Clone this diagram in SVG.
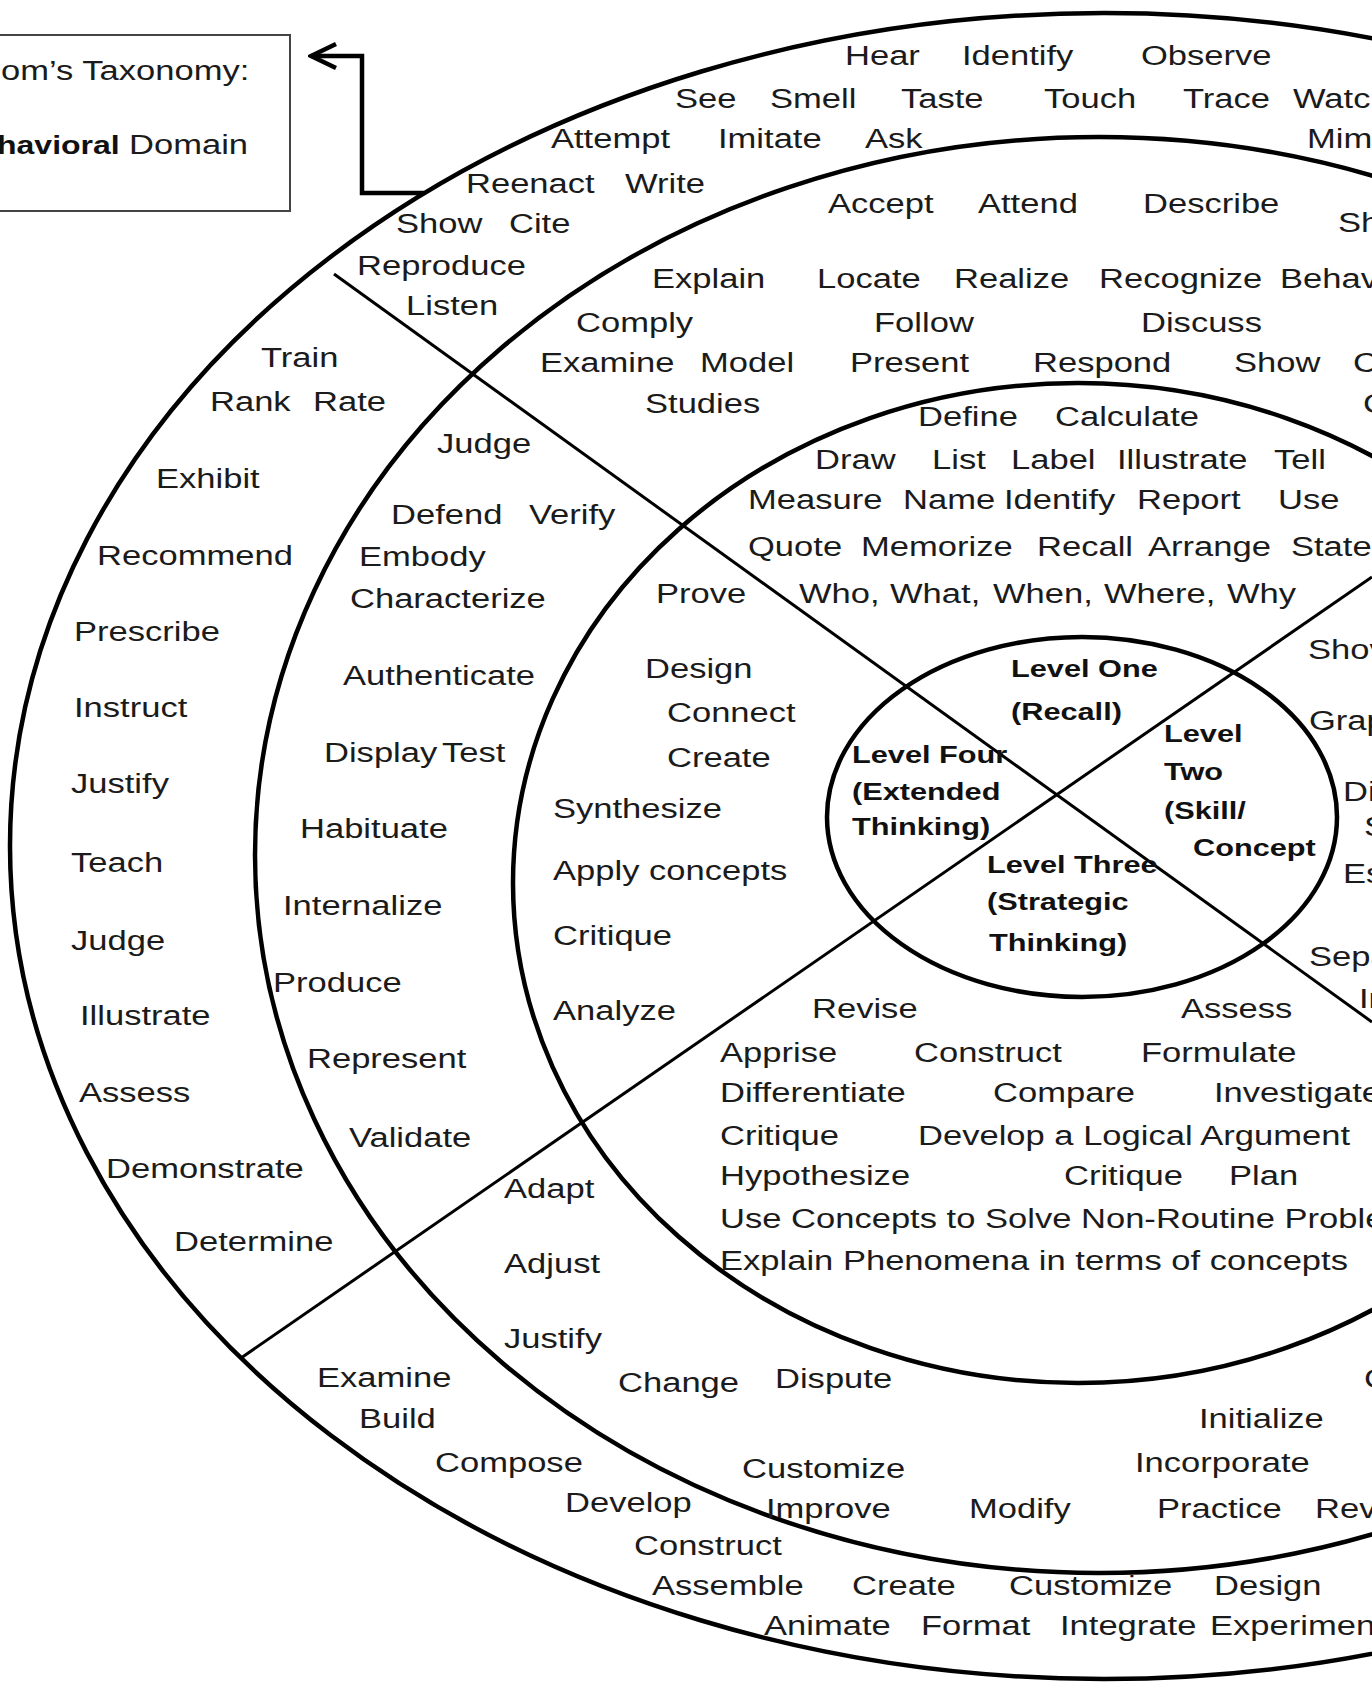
<svg xmlns="http://www.w3.org/2000/svg" width="1372" height="1685" viewBox="0 0 1372 1685">
<style>
.t{font-family:"Liberation Sans",Arial,sans-serif;font-size:27px;fill:#1b1b1b;transform-box:fill-box;transform-origin:0 0;transform:scaleX(1.28)}
.b{font-weight:bold;font-size:24px;fill:#111}
.bb{font-weight:bold;font-size:25px;fill:#111}
.ring{fill:none;stroke:#000;stroke-width:4.5}
.div{fill:none;stroke:#000;stroke-width:3}
.conn{fill:none;stroke:#000;stroke-width:4.5;stroke-linejoin:miter}
</style>
<defs>
<marker id="chev" markerUnits="userSpaceOnUse" viewBox="0 0 30 30" markerWidth="30" markerHeight="30" refX="27" refY="15" orient="auto">
<path d="M2,3 L27,15 L2,27" fill="none" stroke="#000" stroke-width="4.5" stroke-linejoin="miter"/>
</marker>
</defs>
<rect x="0" y="0" width="1372" height="1685" fill="#fff"/>

<g id="rings">
<ellipse class="ring" cx="1104" cy="846" rx="1094" ry="833"/>
<ellipse class="ring" cx="1099" cy="855" rx="844" ry="718"/>
<ellipse class="ring" cx="1078" cy="883" rx="565" ry="500"/>
<ellipse class="ring" cx="1082" cy="817" rx="255" ry="180" stroke-width="4"/>
</g>

<g id="dividers">
<line class="div" x1="334" y1="274" x2="1372" y2="1022"/>
<line class="div" x1="241" y1="1358" x2="1372" y2="577"/>
</g>

<g id="connectors">
<polyline class="conn" points="424,193 362,193 362,56 311,56" marker-end="url(#chev)"/>
</g>

<g id="title-box">
<rect x="-5" y="35" width="295" height="176" fill="#fff" stroke="#444" stroke-width="2"/>
<text class="t" x="1" y="80">om’s Taxonomy:</text>
<text class="t bb" x="-3" y="154">havioral</text>
<text class="t" x="129" y="154">Domain</text>
</g>

<g id="band1-top">
<text class="t" x="845" y="65">Hear</text>
<text class="t" x="962" y="65">Identify</text>
<text class="t" x="1141" y="65">Observe</text>
<text class="t" x="675" y="108">See</text>
<text class="t" x="770" y="108">Smell</text>
<text class="t" x="901" y="108">Taste</text>
<text class="t" x="1044" y="108">Touch</text>
<text class="t" x="1183" y="108">Trace</text>
<text class="t" x="1293" y="108">Watc</text>
<text class="t" x="551" y="148">Attempt</text>
<text class="t" x="718" y="148">Imitate</text>
<text class="t" x="865" y="148">Ask</text>
<text class="t" x="1307" y="148">Mim</text>
<text class="t" x="466" y="193">Reenact</text>
<text class="t" x="625" y="193">Write</text>
<text class="t" x="396" y="233">Show</text>
<text class="t" x="509" y="233">Cite</text>
<text class="t" x="357" y="275">Reproduce</text>
<text class="t" x="406" y="315">Listen</text>
</g>

<g id="band1-left">
<text class="t" x="261" y="367">Train</text>
<text class="t" x="210" y="411">Rank</text>
<text class="t" x="313" y="411">Rate</text>
<text class="t" x="156" y="488">Exhibit</text>
<text class="t" x="97" y="565">Recommend</text>
<text class="t" x="74" y="641">Prescribe</text>
<text class="t" x="74" y="717">Instruct</text>
<text class="t" x="71" y="793">Justify</text>
<text class="t" x="71" y="872">Teach</text>
<text class="t" x="71" y="950">Judge</text>
<text class="t" x="80" y="1025">Illustrate</text>
<text class="t" x="79" y="1102">Assess</text>
<text class="t" x="106" y="1178">Demonstrate</text>
<text class="t" x="174" y="1251">Determine</text>
</g>

<g id="band1-bottom">
<text class="t" x="317" y="1387">Examine</text>
<text class="t" x="359" y="1428">Build</text>
<text class="t" x="435" y="1472">Compose</text>
<text class="t" x="565" y="1512">Develop</text>
<text class="t" x="634" y="1555">Construct</text>
<text class="t" x="652" y="1595">Assemble</text>
<text class="t" x="852" y="1595">Create</text>
<text class="t" x="1009" y="1595">Customize</text>
<text class="t" x="1214" y="1595">Design</text>
<text class="t" x="764" y="1635">Animate</text>
<text class="t" x="921" y="1635">Format</text>
<text class="t" x="1060" y="1635">Integrate</text>
<text class="t" x="1210" y="1635">Experimen</text>
</g>

<g id="band2-top">
<text class="t" x="828" y="213">Accept</text>
<text class="t" x="978" y="213">Attend</text>
<text class="t" x="1143" y="213">Describe</text>
<text class="t" x="1338" y="232">Sh</text>
<text class="t" x="652" y="288">Explain</text>
<text class="t" x="817" y="288">Locate</text>
<text class="t" x="954" y="288">Realize</text>
<text class="t" x="1099" y="288">Recognize</text>
<text class="t" x="1280" y="288">Behav</text>
<text class="t" x="576" y="332">Comply</text>
<text class="t" x="874" y="332">Follow</text>
<text class="t" x="1141" y="332">Discuss</text>
<text class="t" x="540" y="372">Examine</text>
<text class="t" x="700" y="372">Model</text>
<text class="t" x="850" y="372">Present</text>
<text class="t" x="1033" y="372">Respond</text>
<text class="t" x="1234" y="372">Show</text>
<text class="t" x="1353" y="372">C</text>
<text class="t" x="645" y="413">Studies</text>
<text class="t" x="1363" y="413">C</text>
</g>

<g id="band2-left">
<text class="t" x="437" y="453">Judge</text>
<text class="t" x="391" y="524">Defend</text>
<text class="t" x="529" y="524">Verify</text>
<text class="t" x="359" y="566">Embody</text>
<text class="t" x="350" y="608">Characterize</text>
<text class="t" x="343" y="685">Authenticate</text>
<text class="t" x="324" y="762">Display</text>
<text class="t" x="442" y="762">Test</text>
<text class="t" x="300" y="838">Habituate</text>
<text class="t" x="283" y="915">Internalize</text>
<text class="t" x="273" y="992">Produce</text>
<text class="t" x="307" y="1068">Represent</text>
<text class="t" x="349" y="1147">Validate</text>
</g>

<g id="band2-bottom">
<text class="t" x="504" y="1198">Adapt</text>
<text class="t" x="504" y="1273">Adjust</text>
<text class="t" x="504" y="1348">Justify</text>
<text class="t" x="618" y="1392">Change</text>
<text class="t" x="775" y="1388">Dispute</text>
<text class="t" x="1364" y="1388">C</text>
<text class="t" x="1199" y="1428">Initialize</text>
<text class="t" x="742" y="1478">Customize</text>
<text class="t" x="1135" y="1472">Incorporate</text>
<text class="t" x="766" y="1518">Improve</text>
<text class="t" x="969" y="1518">Modify</text>
<text class="t" x="1157" y="1518">Practice</text>
<text class="t" x="1315" y="1518">Rev</text>
</g>

<g id="band3-top">
<text class="t" x="918" y="426">Define</text>
<text class="t" x="1055" y="426">Calculate</text>
<text class="t" x="815" y="469">Draw</text>
<text class="t" x="932" y="469">List</text>
<text class="t" x="1011" y="469">Label</text>
<text class="t" x="1117" y="469">Illustrate</text>
<text class="t" x="1274" y="469">Tell</text>
<text class="t" x="748" y="509">Measure</text>
<text class="t" x="903" y="509">Name</text>
<text class="t" x="1004" y="509">Identify</text>
<text class="t" x="1137" y="509">Report</text>
<text class="t" x="1278" y="509">Use</text>
<text class="t" x="748" y="556">Quote</text>
<text class="t" x="861" y="556">Memorize</text>
<text class="t" x="1037" y="556">Recall</text>
<text class="t" x="1148" y="556">Arrange</text>
<text class="t" x="1291" y="556">State</text>
<text class="t" x="799" y="603">Who,</text>
<text class="t" x="890" y="603">What,</text>
<text class="t" x="993" y="603">When,</text>
<text class="t" x="1104" y="603">Where,</text>
<text class="t" x="1227" y="603">Why</text>
</g>

<g id="band3-left">
<text class="t" x="656" y="603">Prove</text>
<text class="t" x="645" y="678">Design</text>
<text class="t" x="667" y="722">Connect</text>
<text class="t" x="667" y="767">Create</text>
<text class="t" x="553" y="818">Synthesize</text>
<text class="t" x="553" y="880">Apply concepts</text>
<text class="t" x="553" y="945">Critique</text>
<text class="t" x="553" y="1020">Analyze</text>
</g>

<g id="band3-bottom">
<text class="t" x="812" y="1018">Revise</text>
<text class="t" x="1181" y="1018">Assess</text>
<text class="t" x="720" y="1062">Apprise</text>
<text class="t" x="914" y="1062">Construct</text>
<text class="t" x="1141" y="1062">Formulate</text>
<text class="t" x="720" y="1102">Differentiate</text>
<text class="t" x="993" y="1102">Compare</text>
<text class="t" x="1214" y="1102">Investigate</text>
<text class="t" x="720" y="1145">Critique</text>
<text class="t" x="918" y="1145">Develop a Logical Argument</text>
<text class="t" x="720" y="1185">Hypothesize</text>
<text class="t" x="1064" y="1185">Critique</text>
<text class="t" x="1229" y="1185">Plan</text>
<text class="t" x="720" y="1228">Use Concepts to Solve Non-Routine Proble</text>
<text class="t" x="720" y="1270">Explain Phenomena in terms of concepts</text>
</g>

<g id="band3-right">
<text class="t" x="1308" y="659">Shov</text>
<text class="t" x="1309" y="730">Grap</text>
<text class="t" x="1343" y="801">Di</text>
<text class="t" x="1364" y="836">S</text>
<text class="t" x="1343" y="883">Es</text>
<text class="t" x="1309" y="966">Sepa</text>
<text class="t" x="1359" y="1008">In</text>
</g>

<g id="level-one">
<text class="t b" x="1011" y="677">Level One</text>
<text class="t b" x="1011" y="720">(Recall)</text>
</g>
<g id="level-two">
<text class="t b" x="1164" y="742">Level</text>
<text class="t b" x="1164" y="780">Two</text>
<text class="t b" x="1164" y="819">(Skill/</text>
<text class="t b" x="1193" y="856">Concept</text>
</g>
<g id="level-three">
<text class="t b" x="987" y="873">Level Three</text>
<text class="t b" x="987" y="910">(Strategic</text>
<text class="t b" x="989" y="951">Thinking)</text>
</g>
<g id="level-four">
<text class="t b" x="852" y="763">Level Four</text>
<text class="t b" x="852" y="800">(Extended</text>
<text class="t b" x="852" y="835">Thinking)</text>
</g>
</svg>
